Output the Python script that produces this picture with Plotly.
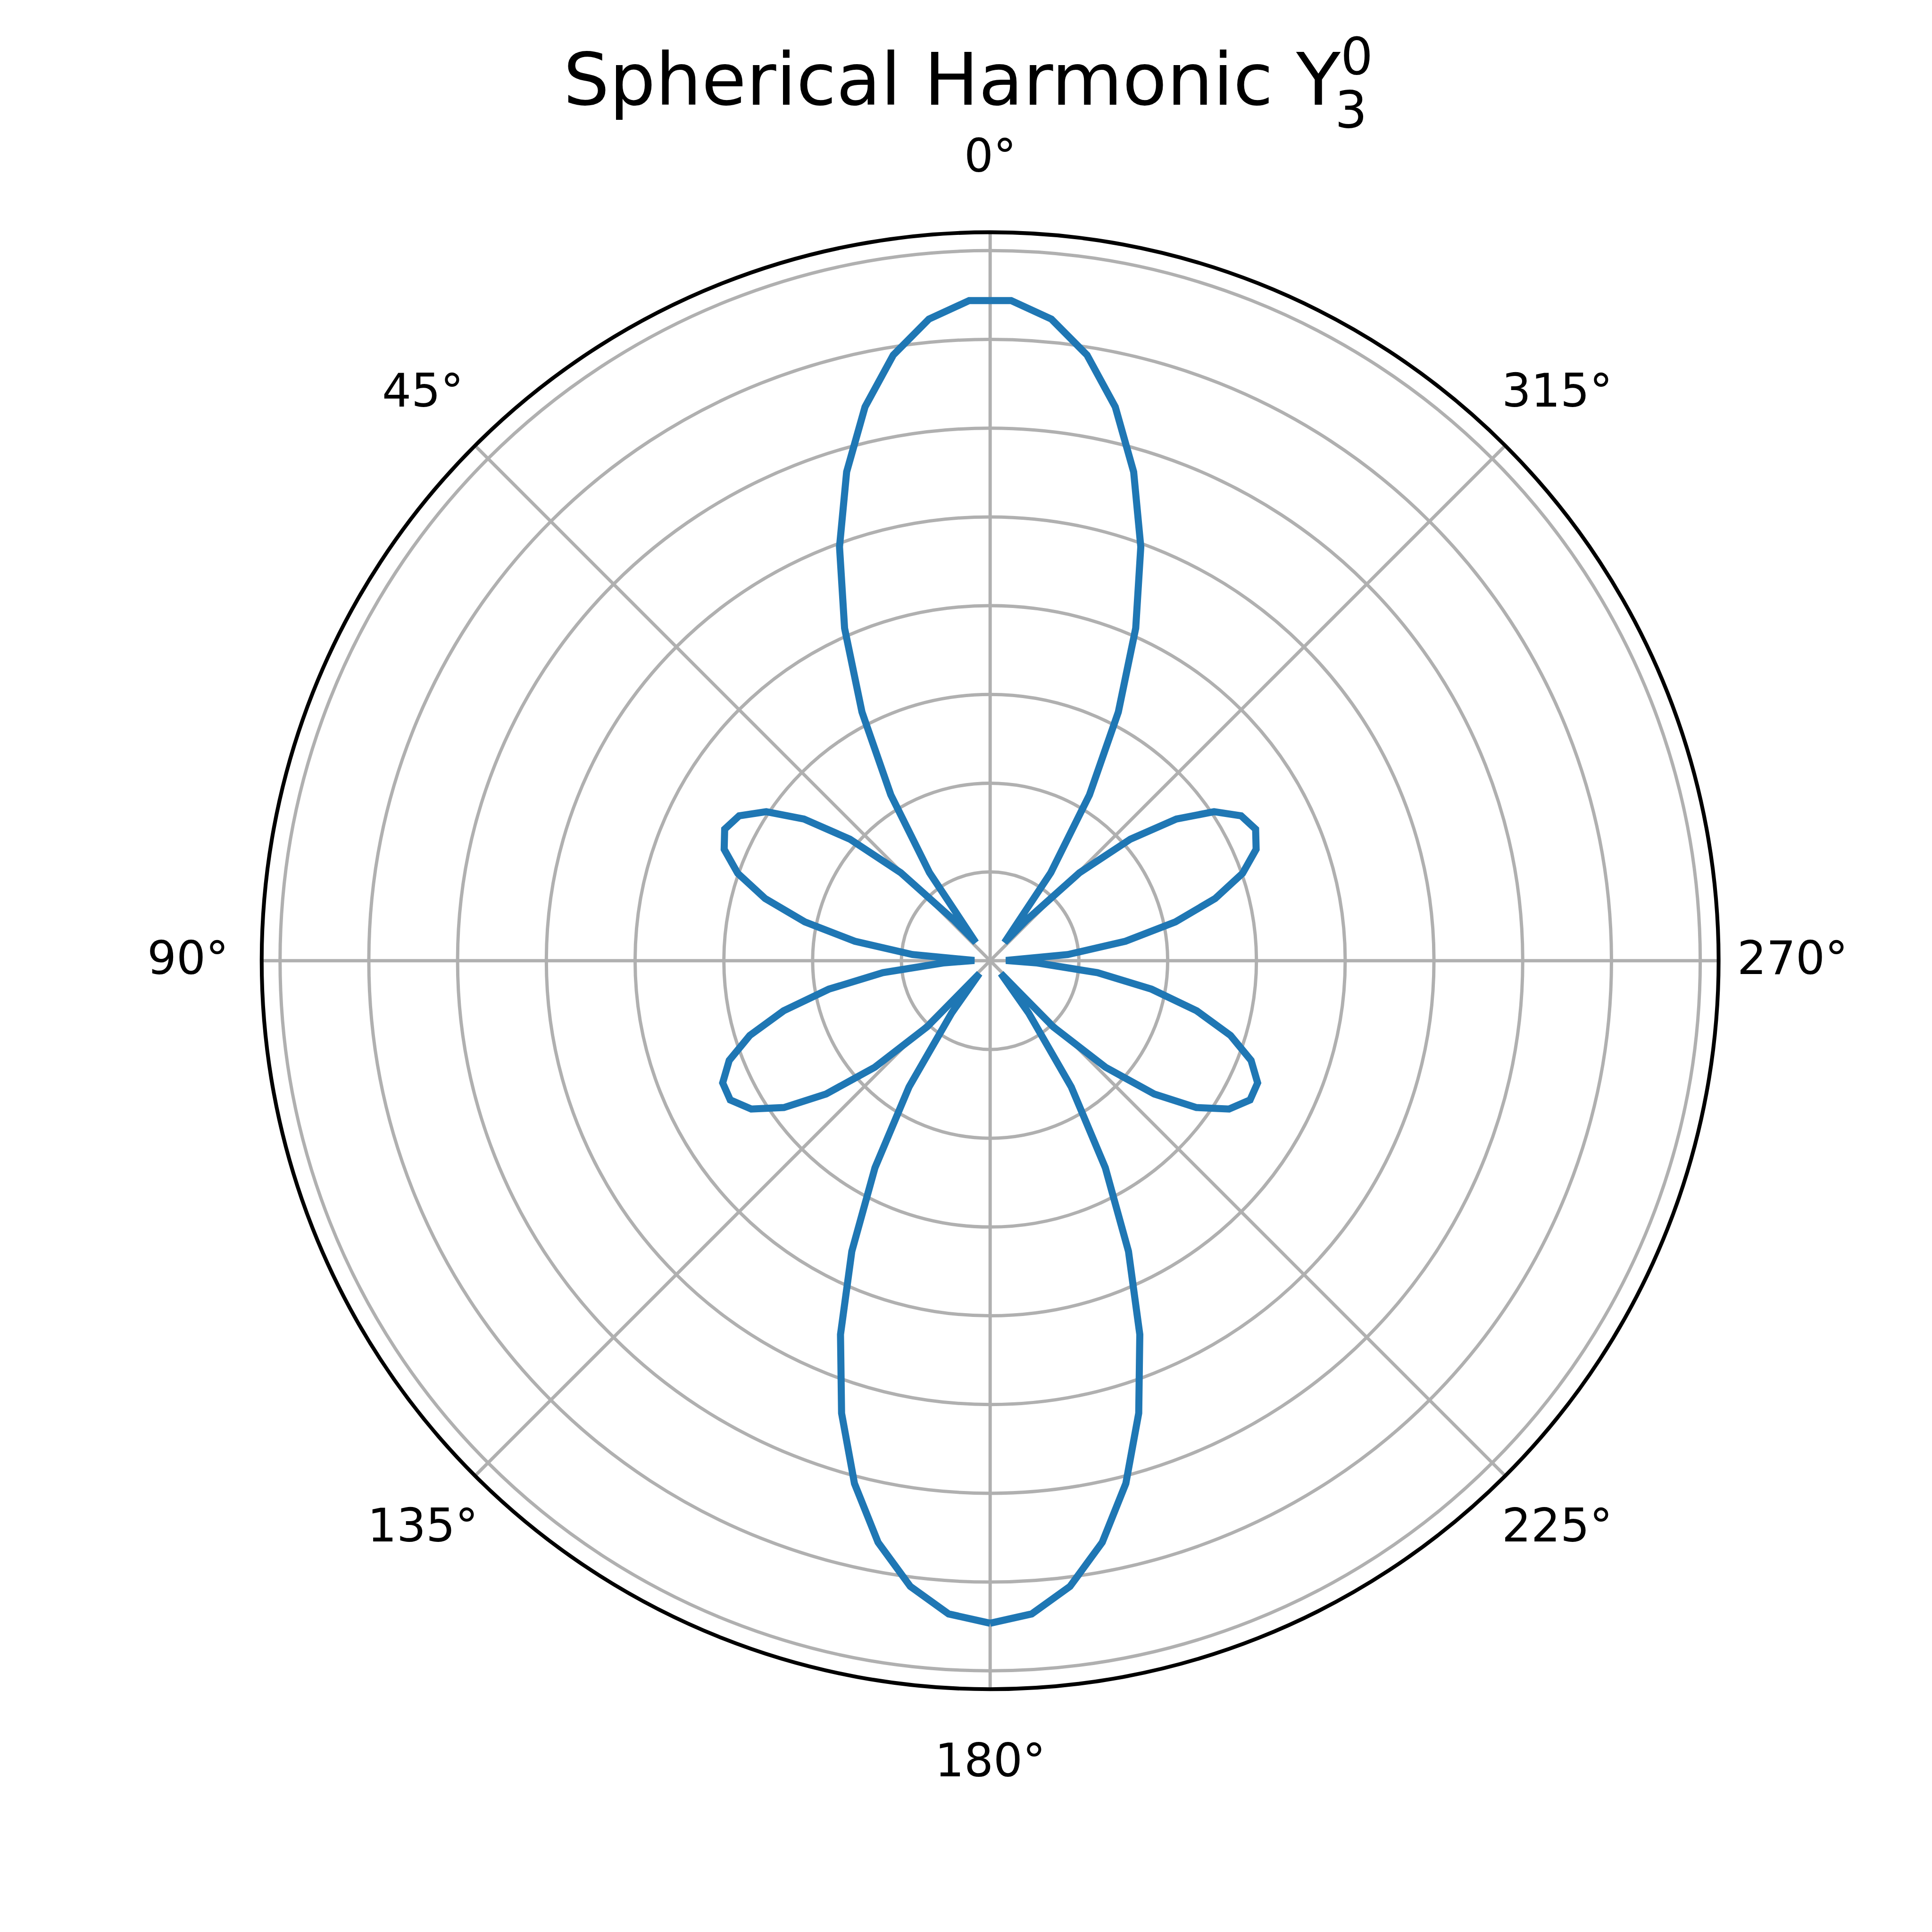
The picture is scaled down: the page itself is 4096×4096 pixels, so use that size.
import math
import plotly.graph_objects as go

# sample angles (degrees) of the plotted curve
theta_deg = [
    180.00, 183.64, 187.27, 190.91, 194.55, 198.18, 201.82, 205.45, 209.09, 212.73,
    216.36, 220.00, 223.64, 227.27, 230.91, 234.55, 238.18, 241.82, 245.45, 249.09,
    252.73, 256.36, 260.00, 263.64, 267.27, 270.91, 274.55, 278.18, 281.82, 285.45,
    289.09, 292.73, 296.36, 300.00, 303.64, 307.27, 310.91, 314.55, 318.18, 321.82,
    325.45, 329.09, 332.73, 336.36, 340.00, 343.64, 347.27, 350.91, 354.55, 358.18,
    1.82, 5.45, 9.09, 12.73, 16.36, 20.00, 23.64, 27.27, 30.91, 34.55,
    38.18, 41.82, 45.45, 49.09, 52.73, 56.36, 60.00, 63.64, 67.27, 70.91,
    74.55, 78.18, 81.82, 85.45, 89.09, 92.73, 96.36, 100.00, 103.64, 107.27,
    110.91, 114.55, 118.18, 121.82, 125.45, 129.09, 132.73, 136.36, 140.00, 143.64,
    147.27, 150.91, 154.55, 158.18, 161.82, 165.45, 169.09, 172.73, 176.36, 180.00,
]

# |Y_3^0| magnitude read at each sample angle
r_vals = [
    0.7464, 0.7374, 0.7107, 0.6673, 0.6085, 0.5365, 0.4536, 0.3627, 0.2668, 0.1691,
    0.0728, 0.0188, 0.1029, 0.1768, 0.2381, 0.2852, 0.3168, 0.3322, 0.3313, 0.3147,
    0.2836, 0.2395, 0.1846, 0.1216, 0.0531, 0.0178, 0.0878, 0.1540, 0.2133, 0.2630,
    0.3009, 0.3249, 0.3338, 0.3265, 0.3030, 0.2636, 0.2091, 0.1413, 0.0620, 0.0262,
    0.1206, 0.2179, 0.3152, 0.4090, 0.4962, 0.5740, 0.6397, 0.6910, 0.7262, 0.7441,
    0.7441, 0.7262, 0.6910, 0.6397, 0.5740, 0.4962, 0.4090, 0.3152, 0.2179, 0.1206,
    0.0262, 0.0620, 0.1413, 0.2091, 0.2636, 0.3030, 0.3265, 0.3338, 0.3249, 0.3009,
    0.2630, 0.2133, 0.1540, 0.0878, 0.0178, 0.0531, 0.1216, 0.1846, 0.2395, 0.2836,
    0.3147, 0.3313, 0.3322, 0.3168, 0.2852, 0.2381, 0.1768, 0.1029, 0.0188, 0.0728,
    0.1691, 0.2668, 0.3627, 0.4536, 0.5365, 0.6085, 0.6673, 0.7107, 0.7374, 0.7464,
]

angle_ticks = [0, 45, 90, 135, 180, 225, 270, 315]
angle_labels = ["0°", "45°", "90°", "135°", "180°", "225°", "270°", "315°"]
radial_ticks = [0.1, 0.2, 0.3, 0.4, 0.5, 0.6, 0.7, 0.8]
r_max = 0.8207

FONT = "DejaVu Sans"
GRID = "#b0b0b0"
W = H = 4096

dom_x = [0.13545, 0.88955]
dom_y = [0.12568, 0.87979]

fig = go.Figure()
fig.add_trace(go.Scatterpolar(
    r=r_vals, theta=theta_deg, mode="lines",
    line=dict(color="#1f77b4", width=15),
    showlegend=False, hoverinfo="skip",
))

# angular tick labels, placed like matplotlib (centred, just outside the rim)
cx = (dom_x[0] + dom_x[1]) / 2
cy = (dom_y[0] + dom_y[1]) / 2
rad_px = (dom_x[1] - dom_x[0]) * W / 2
lab_px = rad_px * 1.1014
annotations = []
for a, lab in zip(angle_ticks, angle_labels):
    t = math.radians(a)
    annotations.append(dict(
        text=lab, xref="paper", yref="paper",
        x=cx - lab_px * math.sin(t) / W,
        y=cy + (lab_px * math.cos(t) + 6) / H,
        xanchor="center", yanchor="middle", showarrow=False,
        font=dict(family=FONT, size=97.5, color="black"),
    ))

# stacked subscript of the title symbol
annotations.append(dict(
    text="3", x=2864 / W, y=1 - 232 / H, xref="paper", yref="paper",
    xanchor="center", yanchor="middle", showarrow=False,
    font=dict(family=FONT, size=108, color="black"),
))

fig.update_layout(
    width=W, height=H,
    margin=dict(l=0, r=0, t=0, b=0),
    paper_bgcolor="white",
    showlegend=False,
    title=dict(
        text="Spherical Harmonic Y<sup>0</sup>",
        font=dict(family=FONT, size=154, color="black"),
        x=0.5011, xanchor="center", xref="paper",
        y=1 - 168 / H, yanchor="middle", yref="paper",
    ),
    polar=dict(
        domain=dict(x=dom_x, y=dom_y),
        bgcolor="white",
        radialaxis=dict(
            range=[0, r_max], tickvals=radial_ticks, showticklabels=False,
            ticks="", showline=False, gridcolor=GRID, gridwidth=6.5,
        ),
        angularaxis=dict(
            rotation=90, direction="counterclockwise",
            tickmode="array", tickvals=angle_ticks, ticktext=angle_labels,
            showticklabels=False, ticks="",
            showline=True, linecolor="black", linewidth=8.1,
            gridcolor=GRID, gridwidth=6.5,
        ),
    ),
    annotations=annotations,
)

fig.write_html("out.html")
